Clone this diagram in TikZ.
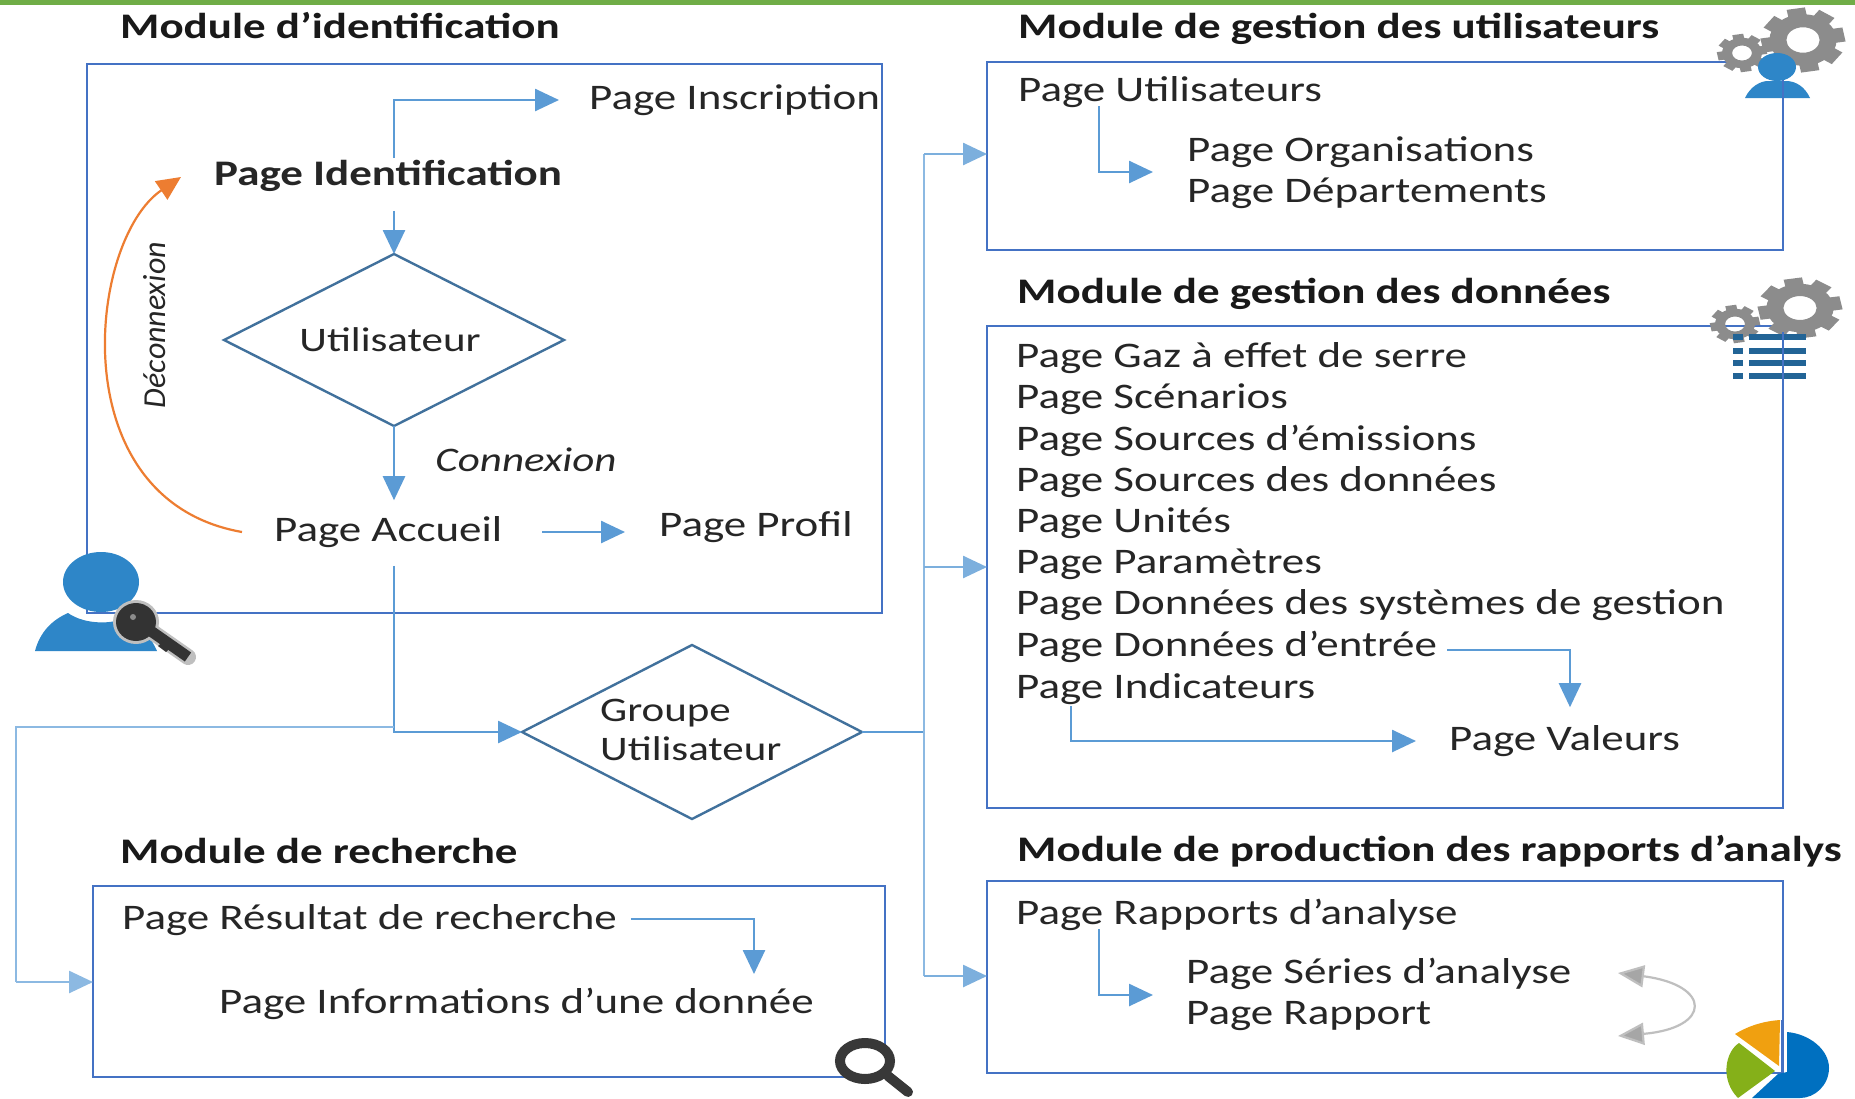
\documentclass[tikz,border=0pt]{standalone}
\usepackage{fontspec}
\setmainfont[FakeStretch=1.25]{Carlito}
\newfontfamily\plainfont{Carlito}
\usetikzlibrary{positioning}
\usetikzlibrary{shapes.geometric}
\usetikzlibrary{arrows.meta}
\usetikzlibrary{calc}
\definecolor{topbar}{HTML}{70AD47}
\definecolor{flowblue}{HTML}{5B9BD5}
\definecolor{framecol}{HTML}{4472C4}
\definecolor{diamcol}{HTML}{41719C}
\definecolor{iconblue}{HTML}{2E86C8}
\definecolor{gearcol}{HTML}{8C8C8C}
\definecolor{orangearc}{HTML}{ED7D31}
\definecolor{pieblue}{HTML}{0070C0}
\definecolor{piegreen}{HTML}{85B019}
\definecolor{pieorange}{HTML}{F0A010}
\tikzset{
    pagetxt/.style={anchor=west, inner sep=0pt, font=\fontsize{36}{36}\selectfont, text=black!85},
    modtitle/.style={anchor=west, inner sep=0pt, font=\fontsize{36}{36}\selectfont\bfseries, text=black!90},
    modbox/.style={draw=framecol, line width=2.4pt, anchor=north west, outer sep=0pt},
    choice/.style={draw=diamcol, line width=2.4pt, diamond, aspect=1.95, inner sep=0pt, outer sep=0pt},
    smalltxt/.style={inner sep=0pt, font=\fontsize{34.4}{39}\selectfont, text=black!85},
    flow/.style={draw=flowblue, line width=2.6pt, -{Triangle[length=24pt,width=22pt]}},
    flowplain/.style={draw=flowblue, line width=2.6pt},
    gear/.pic={
        \fill[gearcol, even odd rule] (0,0) circle (10.5) (0,0) circle (5.2);
        \foreach \a in {0,45,...,315}
            \fill[gearcol, rotate=\a+10] (9,-2.9) rectangle (13,2.9);
    },
}
\begin{document}
\begin{tikzpicture}[x=1pt, y=-1pt]
    \useasboundingbox (0,0) rectangle (1855,1098);
    \fill[white] (0,0) rectangle (1855,1098);
    \fill[topbar] (0,0) rectangle (1855,5);

    % module boxes
    \node [modbox, minimum width=795pt, minimum height=549pt] (boxident) at (87,64) {};
    \node [modbox, minimum width=796pt, minimum height=188pt] (boxusers) at (987,62) {};
    \node [modbox, minimum width=796pt, minimum height=482pt] (boxdata) at (987,326) {};
    \node [modbox, minimum width=796pt, minimum height=192pt] (boxreports) at (987,881) {};
    \node [modbox, minimum width=792pt, minimum height=191pt] (boxsearch) at (93,886) {};

    % titles
    \node [modtitle] (titident) at (120,26) {Module d’identification};
    \node [modtitle] (titusers) at (1018,29) {Module de gestion des utilisateurs};
    \node [modtitle] (titdata) at (1017,294) {Module de gestion des données};
    \node [modtitle] (titreports) at (1017,851) {Module de production des rapports d’analys};
    \node [modtitle] (titsearch) at (120,851) {Module de recherche};

    % identification
    \node [pagetxt] (inscr) at (589,100) {Page Inscription};
    \node [pagetxt, font=\fontsize{36}{36}\selectfont\bfseries] (ident) at (214,176) {Page Identification};
    \node [choice, minimum width=340pt, minimum height=172pt] (user) at (394,340) {};
    \node [smalltxt] (usertxt) at (390,340) {Utilisateur};
    \node [pagetxt] (accueil) at (274,532) {Page Accueil};
    \node [pagetxt] (profil) at (659,527) {Page Profil};
    \node [smalltxt, font=\fontsize{34.4}{34.4}\selectfont\itshape] (conn) at (526,460) {Connexion};
    \node [smalltxt, font=\fontsize{32}{32}\plainfont\itshape, rotate=90] (deconn) at (155,325) {Déconnexion};

    % groupe
    \node [choice, minimum width=340pt, minimum height=174pt] (group) at (692,732) {};
    \node [smalltxt, anchor=west, align=left] (grouptxt) at (600,730) {Groupe\\Utilisateur};

    % users
    \node [pagetxt] (puser) at (1018,92) {Page Utilisateurs};
    \node [pagetxt] (porg) at (1187,152) {Page Organisations};
    \node [pagetxt] (pdep) at (1187,193) {Page Départements};

    % data
    \node [pagetxt] (d1) at (1016,358) {Page Gaz à effet de serre};
    \node [pagetxt] (d2) at (1016,399) {Page Scénarios};
    \node [pagetxt] (d3) at (1016,441) {Page Sources d’émissions};
    \node [pagetxt] (d4) at (1016,482) {Page Sources des données};
    \node [pagetxt] (d5) at (1016,523) {Page Unités};
    \node [pagetxt] (d6) at (1016,564) {Page Paramètres};
    \node [pagetxt] (d7) at (1016,605) {Page Données des systèmes de gestion};
    \node [pagetxt] (d8) at (1016,647) {Page Données d’entrée};
    \node [pagetxt] (d9) at (1016,689) {Page Indicateurs};
    \node [pagetxt] (dval) at (1449,741) {Page Valeurs};

    % reports
    \node [pagetxt] (prap) at (1016,915) {Page Rapports d’analyse};
    \node [pagetxt] (pser) at (1186,974) {Page Séries d’analyse};
    \node [pagetxt] (prep) at (1186,1016) {Page Rapport};

    % search
    \node [pagetxt] (pres) at (122,920) {Page Résultat de recherche};
    \node [pagetxt] (pinfo) at (219,1004) {Page Informations d’une donnée};

    % connectors
    \draw [flow] ($(ident.north -| user.north)+(0,-2)$) |- ($(inscr.west)+(-30,0)$);
    \draw [flow] ($(ident.south -| user.north)+(0,19)$) -- (user.north);
    \draw [flow] (user.south) -- ($(accueil.north -| user.south)+(0,-16)$);
    \draw [flow] ($(accueil.east)+(40,0)$) -- ($(profil.west)+(-34,5)$);
    \draw [draw=orangearc, line width=2.2pt, -{Triangle[length=24pt,width=22pt]}]
        ($(accueil.west)+(-32,0)$) .. controls (60,500) and (88,240) .. ($(ident.west)+(-33,1)$);
    \draw [flow] ($(accueil.south -| user.south)+(0,18)$) |- (group.west);
    \draw [flowplain, flowblue!70] (394,727) -| (16,982);
    \draw [flow, flowblue!70] (16,982) -- (boxsearch.west |- 16,982);
    \draw [flowplain] (group.east) -- (924,732) coordinate (fork);
    \draw [flowplain, flowblue!70] (924,154) -- (924,976);
    \draw [flow, flowblue!80] (924,154) -- (boxusers.west |- 924,154);
    \draw [flow, flowblue!80] (924,567) -- (boxdata.west |- 924,567);
    \draw [flow, flowblue!80] (924,976) -- (boxreports.west |- 924,976);
    \draw [flow] (1099,106) |- ($(porg.west)+(-34,20)$);
    \draw [flow] (1099,929) |- ($(pser.west)+(-33,21)$);
    \draw [flow] ($(d8.east)+(10,3)$) -| ($(dval.north -| 1570,0)+(0,-18)$);
    \draw [flow] (1071,706) |- ($(dval.west)+(-33,0)$);
    \draw [flow] ($(pres.east)+(14,-1)$) -| (754,974);
    \draw [draw=black!25, line width=2.2pt, {Triangle[length=26pt,width=22pt,fill=black!35]}-{Triangle[length=26pt,width=22pt,fill=black!35]}]
        (1618,973) .. controls (1712,985) and (1712,1028) .. (1618,1036);

    % user icon with key
    \fill[iconblue] (35,651) .. controls (40,632) and (52,620) .. (68,613)
        .. controls (85,625) and (115,625) .. (128,616) .. controls (140,620) and (152,640) .. (157,651) -- cycle;
    \fill[iconblue] (101,582) ellipse (38 and 30);
    \draw[black!25, line width=16pt, line cap=round] (138,622) -- (188,657);
    \fill[black!25] (136,622) ellipse (23 and 22);
    \draw[black!80, line width=11pt] (138,622) -- (188,657);
    \fill[black!80] (136,622) ellipse (20 and 19);
    \fill[black!80] (158,646) -- (165,640) -- (172,646) -- (166,652) -- cycle;
    \fill[black!45] (133,617) circle (3);

    % gears, person
    \path (1803,40) pic[xscale=3.2, yscale=2.45] {gear};
    \path (1742,53) pic[xscale=1.9, yscale=1.45] {gear};
    \fill[iconblue] (1745,98) .. controls (1750,87) and (1760,81) .. (1768,81)
        -- (1786,81) .. controls (1796,81) and (1805,87) .. (1810,98) -- cycle;
    \fill[iconblue] (1777,67) ellipse (19 and 14);
    \draw[framecol, line width=2.4pt] (1783,80) -- (1783,98);

    % gears, list
    \path (1800,308) pic[xscale=3.2, yscale=2.3] {gear};
    \path (1735,324) pic[xscale=1.9, yscale=1.45] {gear};
    \foreach \y in {337,351,363,376} {
        \fill[iconblue!75!black] (1733,\y-3) rectangle (1743,\y+3);
        \fill[iconblue!75!black] (1749,\y-3) rectangle (1806,\y+3);
    }
    \draw[framecol, line width=2.4pt] (1783,332) -- (1783,390);

    % magnifier
    \fill[white] (865,1061) ellipse (25 and 18);
    \draw[black!78, line width=10pt] (865,1061) ellipse (25 and 18);
    \draw[black!78, line width=10pt, line cap=round] (888,1076) -- (908,1092);

    % pie
    \fill[pieblue] (1787,1032) .. controls (1810,1034) and (1829,1050) .. (1829,1068)
        .. controls (1829,1085) and (1815,1098) .. (1800,1098) -- (1752,1098) -- (1778,1074) -- (1787,1072) -- cycle;
    \fill[piegreen] (1739,1043) .. controls (1725,1052) and (1720,1080) .. (1738,1098) -- (1775,1071) -- cycle;
    \fill[pieorange] (1735,1034) .. controls (1750,1025) and (1765,1021) .. (1780,1020) -- (1779,1066) -- cycle;
    \draw[framecol, line width=2.4pt] (1782,1020) -- (1782,1072);
\end{tikzpicture}
\end{document}
